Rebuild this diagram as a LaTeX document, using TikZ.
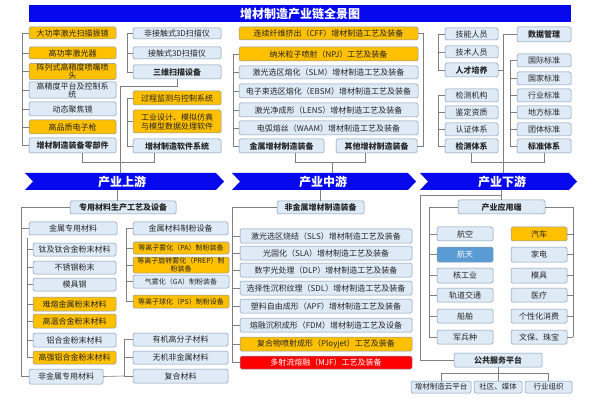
\documentclass[tikz,border=0pt]{standalone}
\usepackage{fontspec}
\setmainfont{Noto Sans CJK SC}
\usetikzlibrary{calc}
\definecolor{lb}{HTML}{DEEBF7}
\definecolor{yel}{HTML}{FFC000}
\definecolor{bord}{HTML}{8497B0}
\definecolor{lc}{HTML}{7F7F7F}
\definecolor{tb}{HTML}{0808EE}
\definecolor{sky}{HTML}{5B9BD5}
\definecolor{rd}{HTML}{FF0000}
\definecolor{tx}{HTML}{262626}
\tikzset{
  bb/.style={draw=bord, fill=lb, text=tx, rounded corners=1.5pt, line width=0.5pt, inner sep=0.5pt, align=center, font=\fontsize{8}{8}\selectfont},
  yb/.style={bb, fill=yel},
  ys/.style={yb, font=\fontsize{7}{7.5}\selectfont},
  bs/.style={bb, font=\fontsize{7}{7.5}\selectfont},
  bd/.style={bb, font=\fontsize{8}{8.5}\selectfont\bfseries},
  rb/.style={bb, fill=rd, text=white},
  sb/.style={bb, fill=sky, text=white},
  sm/.style={bb, font=\fontsize{7.5}{8}\selectfont},
  ln/.style={draw=lc, line width=0.6pt},
  ban/.style={fill=tb},
  bant/.style={text=white, font=\fontsize{12}{12}\selectfont\bfseries},
}
\newcommand\mybox[7]{\node[#6, minimum width={#4pt-#2pt}, minimum height={#5pt-#3pt}] (#1) at ({(#2+#4)/2},{(#3+#5)/2}) {#7};}
\begin{document}
\begin{tikzpicture}[x=1pt,y=-1pt]
\useasboundingbox (0,0) rectangle (605,406);
\fill[white] (0,0) rectangle (605,406);
% title
\fill[tb] (29,5) rectangle (571,22);
\node[bant] (title) at (300,13.5) {增材制造产业链全景图};

% ---------- upper left: parts
\mybox{p1}{29}{27}{116}{39}{yb}{大功率激光扫描振镜}
\mybox{p2}{29}{47}{116}{59}{yb}{高功率激光器}
\mybox{p3}{29}{65}{116}{78}{yb}{阵列式高精度喷嘴喷\\头}
\mybox{p4}{29}{83}{116}{97}{bb}{高精度平台及控制系\\统}
\mybox{p5}{29}{102}{116}{116}{bb}{动态聚焦镜}
\mybox{p6}{29}{120}{116}{134}{yb}{高品质电子枪}
\mybox{p7}{29}{138}{116}{153}{bd}{增材制造装备零部件}
\coordinate (kA) at (22,0);
\draw[ln] (p1.west -| kA) -- (p7.west -| kA);
\foreach \n in {p1,p2,p3,p4,p5,p6,p7} \draw[ln] (\n.west) -- (\n.west -| kA);

% software
\mybox{s1}{133}{28}{221}{39}{bb}{非接触式3D扫描仪}
\mybox{s2}{133}{47}{221}{59}{bb}{接触式3D扫描仪}
\mybox{s3}{133}{65}{221}{79}{bd}{三维扫描设备}
\mybox{s4}{133}{91}{221}{105}{yb}{过程监测与控制系统}
\mybox{s5}{133}{110}{221}{133}{yb}{工业设计、模拟仿真\\[1pt]与模型数据处理软件}
\mybox{s6}{133}{139}{221}{153}{bd}{增材制造软件系统}
\coordinate (kB) at (127,0);
\draw[ln] (s1.west -| kB) -- (s3.west -| kB);
\draw[ln] (s4.west -| kB) -- (s6.west -| kB);
\foreach \n in {s1,s2,s3,s4,s5,s6} \draw[ln] (\n.west) -- (\n.west -| kB);
\coordinate (bU) at (120,173);
\draw[ln] (s3.south) -- ++(0,7) -| (bU);
\draw[ln] ($(p7.south)+(10,0)$) -- ++(0,9) -| ($(s6.south)+(-23,0)$);

% ---------- middle top
\mybox{m1}{239}{27}{418}{40}{yb}{连续纤维挤出（CFF）增材制造工艺及装备}
\mybox{m2}{239}{47}{418}{61}{yb}{纳米粒子喷射（NPJ）工艺及装备}
\mybox{m3}{239}{66}{418}{79}{bb}{激光选区熔化（SLM）增材制造工艺及装备}
\mybox{m4}{239}{84}{418}{98}{bb}{电子束选区熔化（EBSM）增材制造工艺及装备}
\mybox{m5}{239}{103}{418}{117}{bb}{激光净成形（LENS）增材制造工艺及装备}
\mybox{m6}{239}{121}{418}{135}{bb}{电弧熔丝（WAAM）增材制造工艺及装备}
\mybox{m7}{239}{139}{324}{153}{bd}{金属增材制造装备}
\mybox{m8}{336}{139}{417}{153}{bd}{其他增材制造装备}
\coordinate (kM) at (233,0);
\draw[ln] (m2.west -| kM) -- (m7.west -| kM);
\foreach \n in {m2,m3,m4,m5,m6,m7} \draw[ln] (\n.west) -- (\n.west -| kM);
\coordinate (kN) at (423,0);
\draw[ln] (m1.east) -- (m1.east -| kN) -- (m8.east -| kN) -- (m8.east);
\draw[ln] ($(m7.south)+(13.5,0)$) -- ++(0,9) -| ($(m8.south)+(-11.5,0)$);
\coordinate (bMt) at (332,162);
\coordinate (bM) at (332,173);
\draw[ln] (bMt) -- (bM);

% ---------- right top
\mybox{r1}{445}{28}{498}{40}{bb}{技能人员}
\mybox{r2}{445}{46}{498}{58}{bb}{技术人员}
\mybox{r3}{445}{63}{498}{77}{bd}{人才培养}
\mybox{r4}{445}{89}{498}{102}{bb}{检测机构}
\mybox{r5}{445}{106}{498}{119}{bb}{鉴定资质}
\mybox{r6}{445}{123}{498}{136}{bb}{认证体系}
\mybox{r7}{445}{139}{498}{153}{bd}{检测体系}
\coordinate (kR) at (438,0);
\draw[ln] (r1.west -| kR) -- (r3.west -| kR);
\draw[ln] (r4.west -| kR) -- (r7.west -| kR);
\foreach \n in {r1,r2,r3,r4,r5,r6,r7} \draw[ln] (\n.west) -- (\n.west -| kR);
\mybox{d1}{517}{27}{571}{42}{bd}{数据管理}
\mybox{t1}{517}{54}{571}{67}{bb}{国际标准}
\mybox{t2}{517}{72}{571}{85}{bb}{国家标准}
\mybox{t3}{517}{89}{571}{102}{bb}{行业标准}
\mybox{t4}{517}{106}{571}{119}{bb}{地方标准}
\mybox{t5}{517}{123}{571}{136}{bb}{团体标准}
\mybox{t6}{517}{139}{571}{153}{bd}{标准体系}
\coordinate (kS) at (510,0);
\draw[ln] (t1.west -| kS) -- (t6.west -| kS);
\foreach \n in {t1,t2,t3,t4,t5,t6} \draw[ln] (\n.west) -- (\n.west -| kS);
\coordinate (kV) at (503,0);
\coordinate (bD) at (503,173);
\draw[ln] (d1.west) -- (d1.west -| kV) -- (bD);
\draw[ln] (r3.east) -- (r3.east -| kV);
\draw[ln] (r7.south) -- ++(0,9) -| (t6.south);

% ---------- banner
\fill[ban] (25,173) -- (216,173) -- (224,181.5) -- (216,190) -- (25,190) -- (33,181.5) -- cycle;
\fill[ban] (232,173) -- (408,173) -- (416,181.5) -- (408,190) -- (232,190) -- (240,181.5) -- cycle;
\fill[ban] (420,173) -- (569,173) -- (577,181.5) -- (569,190) -- (420,190) -- (428,181.5) -- cycle;
\node[bant] (up) at (122,181.5) {产业上游};
\node[bant] (md) at (323,181.5) {产业中游};
\node[bant] (dn) at (502,181.5) {产业下游};

% ---------- lower left
\mybox{L0}{70}{201}{176}{214}{bd}{专用材料生产工艺及设备}
\draw[ln] ($(L0.north)+(-6,0)$) -- ++(0,-11);
\mybox{L1}{29}{222}{117}{235}{bb}{金属专用材料}
\mybox{L2}{133}{222}{228}{235}{bb}{金属材料制粉设备}
\mybox{a1}{33}{243}{116}{256}{bb}{钛及钛合金粉末材料}
\mybox{a2}{33}{261}{116}{274}{bb}{不锈钢粉末}
\mybox{a3}{33}{278}{116}{291}{bb}{模具钢}
\mybox{a4}{33}{297}{116}{311}{yb}{难熔金属粉末材料}
\mybox{a5}{33}{314}{116}{328}{yb}{高温合金粉末材料}
\mybox{a6}{33}{333}{116}{347}{bb}{铝合金粉末材料}
\mybox{a7}{33}{351}{116}{364}{yb}{高强铝合金粉末材料}
\mybox{b1}{133}{242}{229}{254}{ys}{等离子雾化（PA）制粉装备}
\mybox{b2}{133}{257}{229}{273}{ys}{等离子旋转雾化（PREP）制\\粉装备}
\mybox{b3}{133}{275}{229}{288}{bs}{气雾化（GA）制粉装备}
\mybox{b4}{133}{295}{229}{308}{ys}{等离子球化（PS）制粉设备}
\mybox{L9}{29}{369}{103}{384}{bb}{非金属专用材料}
\mybox{c1}{133}{333}{228}{346}{bb}{有机高分子材料}
\mybox{c2}{133}{351}{228}{364}{bb}{无机非金属材料}
\mybox{c3}{133}{369}{228}{383}{bb}{复合材料}
\coordinate (kL) at (21,0);
\draw[ln] (L0.west) -- (L0.west -| kL) -- (L9.west -| kL) -- (L9.west);
\draw[ln] (L1.west) -- (L1.west -| kL);
\coordinate (kT) at (27,0);
\draw[ln] ($(L1.south -| kT)+(0,3)$) -- (a7.west -| kT);
\foreach \n in {a1,a2,a3,a4,a5,a6,a7} \draw[ln] (\n.west) -- (\n.west -| kT);
\coordinate (kP) at (126,0);
\draw[ln] (L2.west -| kP) -- (b4.west -| kP);
\foreach \n in {L2,b1,b2,b3,b4} \draw[ln] (\n.west) -- (\n.west -| kP);
\coordinate (kQ) at (124,0);
\draw[ln] (c1.west -| kQ) -- (c3.west -| kQ);
\foreach \n in {c1,c2,c3} \draw[ln] (\n.west) -- (\n.west -| kQ);
\draw[ln] (L9.east) -- (c3.west -| kQ);

% ---------- lower middle
\mybox{N0}{277}{201}{364}{214}{bd}{非金属增材制造装备}
\draw[ln] (N0.north) -- ++(0,-11);
\mybox{n1}{240}{229}{412}{243}{bb}{激光选区烧结（SLS）增材制造工艺及装备}
\mybox{n2}{240}{246}{412}{260}{bb}{光固化（SLA）增材制造工艺及装备}
\mybox{n3}{240}{263}{412}{277}{bb}{数字光处理（DLP）增材制造工艺及装备}
\mybox{n4}{240}{281}{412}{295}{bb}{选择性沉积纹理（SDL）增材制造工艺及装备}
\mybox{n5}{240}{299}{412}{313}{bb}{塑料自由成形（APF）增材制造工艺及装备}
\mybox{n6}{240}{318}{412}{332}{bb}{熔融沉积成形（FDM）增材制造工艺及设备}
\mybox{n7}{240}{337}{412}{351}{yb}{复合物喷射成形（Ployjet）工艺及装备}
\mybox{n8}{240}{356}{412}{369}{rb}{多射流熔融（MJF）工艺及装备}
\coordinate (kN2) at (232,0);
\draw[ln] (N0.west) -- (N0.west -| kN2) -- (n8.west -| kN2);
\foreach \n in {n1,n2,n3,n4,n5,n6,n7,n8} \draw[ln] (\n.west) -- (\n.west -| kN2);

% ---------- lower right
\mybox{R0}{458}{200}{545}{214}{bd}{产业应用端}
\draw[ln] (R0.north) -- ++(0,-10);
\mybox{g1}{437}{227}{493}{241}{bb}{航空}
\mybox{g2}{437}{247}{493}{262}{sb}{航天}
\mybox{g3}{437}{268}{493}{283}{bb}{核工业}
\mybox{g4}{437}{288}{493}{302}{bb}{轨道交通}
\mybox{g5}{437}{309}{493}{323}{bb}{船舶}
\mybox{g6}{437}{330}{493}{344}{bb}{军兵种}
\mybox{h1}{511}{227}{567}{241}{yb}{汽车}
\mybox{h2}{511}{247}{567}{262}{bb}{家电}
\mybox{h3}{511}{268}{567}{283}{bb}{模具}
\mybox{h4}{511}{288}{567}{302}{bb}{医疗}
\mybox{h5}{511}{309}{567}{323}{bb}{个性化消费}
\mybox{h6}{511}{330}{567}{344}{bb}{文保、珠宝}
\coordinate (kG) at (429,0);
\coordinate (kH) at (573,0);
\draw[ln] (R0.west) -- (R0.west -| kG) -- (g6.west -| kG);
\foreach \n in {g1,g2,g3,g4,g5,g6} \draw[ln] (\n.west) -- (\n.west -| kG);
\draw[ln] (R0.east) -- (R0.east -| kH) -- (h6.east -| kH);
\foreach \n in {h1,h2,h3,h4,h5,h6} \draw[ln] (\n.east) -- (\n.east -| kH);
\mybox{P0}{454}{353}{542}{367}{bd}{公共服务平台}
\mybox{q1}{411}{381}{471}{393}{sm}{增材制造云平台}
\mybox{q2}{474}{381}{522}{393}{sm}{社区、媒体}
\mybox{q3}{525}{381}{572}{393}{sm}{行业组织}
\coordinate (bR) at (502,195);
\coordinate (kW) at (420,0);
\draw[ln] (bR) -- (bR -| kW) -- (P0.west -| kW) -- (P0.west);
\draw[ln] (P0.south) -- (q2.north);
\draw[ln] (q1.north) -- ++(0,-7) -| (q3.north);
\end{tikzpicture}
\end{document}
